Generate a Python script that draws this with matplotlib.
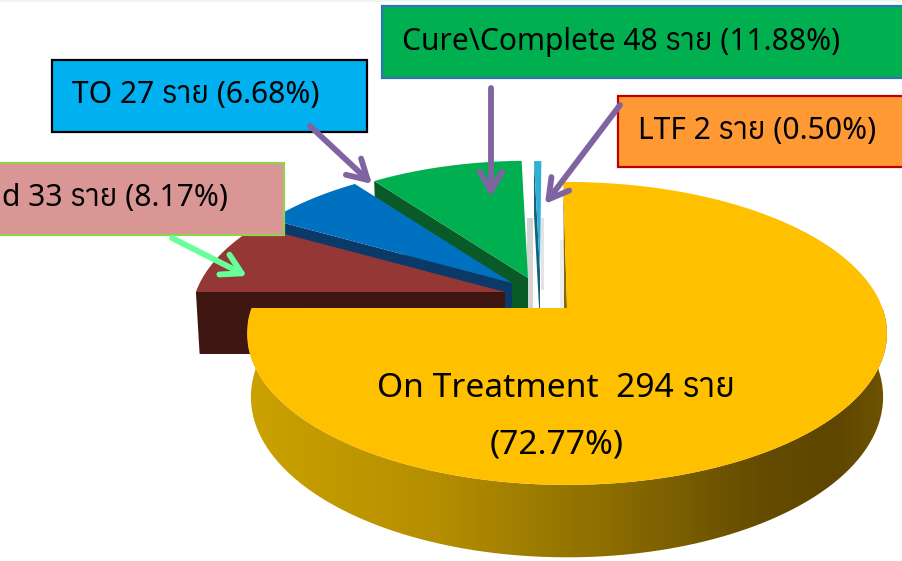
import numpy as np
import matplotlib
matplotlib.use("Agg")
import matplotlib.pyplot as plt
from matplotlib.colors import LinearSegmentedColormap
from matplotlib.patches import Polygon, Rectangle

names = ["On Treatment", "Died", "TO", "Cure", "LTF"]
values = [294, 33, 27, 48, 2]
top_colors = ["#ffc000", "#953735", "#0070c0", "#00b050", "#31b0d5"]
side_colors = ["#8a6a00", "#3f1512", "#0b3a68", "#0a5a28", "#17607a"]

FAMILY = ["Noto Sans", "Anuphan", "DejaVu Sans"]

# per-slice perspective layout
start_angle = 90.8
sweep_factor = [1.0337, 1.0, 1.0, 0.82, 1.0]
apexes = [(567, 308), (505, 292), (512, 283), (528, 278), (540, 272)]
radius_factor = [1.0, 0.98, 0.95, 0.93, 0.88]
R, K, P, D = 315.4, 147.2, 0.168, 62.0


def top(theta, apex, rf):
    t = np.radians(theta)
    w = 1 + P * np.sin(t)
    return apex[0] + rf * R * np.cos(t) / w, apex[1] - rf * K * np.sin(t) / w


def bottom(theta, apex, rf):
    t = np.radians(theta)
    w = 1 + P * np.sin(t)
    return apex[0] + 0.988 * rf * R * np.cos(t) / w, apex[1] - 0.988 * rf * K * np.sin(t) / w + D / w


fig = plt.figure(figsize=(9.03, 5.61), dpi=100)
ax = fig.add_axes([0, 0, 1, 1])
ax.set_xlim(0, 903)
ax.set_ylim(561, 0)
ax.axis("off")
ax.add_patch(Rectangle((0, 0), 903, 2, fc="#eef6f4", ec="none", zorder=0))

total = sum(values)
edges = [start_angle]
for v, f in zip(values, sweep_factor):
    edges.append(edges[-1] - v / total * 360 * f)

# gray shadows in the white gap
ax.add_patch(Polygon([(527, 218), (533, 218), (533, 308), (527, 308)], fc="#d4d4d4", ec="none", zorder=1))
ax.add_patch(Polygon([(541, 218), (544, 218), (544, 290), (541, 290)], fc="#e4e4e4", ec="none", zorder=1))
ax.add_patch(Polygon([(560, 240), (565, 240), (565, 308), (560, 308)], fc="#eeeeee", ec="none", zorder=1))

# draw from back to front: LTF, Cure, TO, Died, then On Treatment
z = 2
for i in [4, 3, 2, 1]:
    a0, a1 = edges[i], edges[i + 1]
    apex, rf = apexes[i], radius_factor[i]
    outer = top(a0, apex, rf)
    low_outer = bottom(a0, apex, rf)
    low_apex = bottom(a0, apex, 0)
    ax.add_patch(Polygon([outer, apex, low_apex, low_outer], fc=side_colors[i], ec="none", zorder=z))
    th = np.linspace(a0, a1, 60)
    pts = [apex] + [top(t, apex, rf) for t in th]
    ax.add_patch(Polygon(pts, fc=top_colors[i], ec="none", zorder=z + 1))
    z += 2

# On Treatment: gradient side wall and top face
a0, a1 = edges[0], edges[1]
apex, rf = apexes[0], radius_factor[0]
th = np.linspace(-180, 0, 120)
wall = [top(t, apex, rf) for t in th] + [bottom(t, apex, rf) for t in th[::-1]]
wall_patch = Polygon(wall, fc="none", ec="none", zorder=z)
ax.add_patch(wall_patch)
cmap = LinearSegmentedColormap.from_list(
    "wall", [(0.0, "#cba200"), (0.3, "#b48e00"), (0.55, "#8e6f00"), (0.8, "#654c00"), (0.92, "#5e4600"), (1.0, "#6e5400")]
)
img = ax.imshow(np.linspace(0, 1, 256)[None, :], extent=(248, 888, 561, 300), cmap=cmap, aspect="auto", zorder=z)
img.set_clip_path(wall_patch)
ax.set_xlim(0, 903)
ax.set_ylim(561, 0)
z += 1
ax.add_patch(Polygon([top(a0, apex, rf), apex, (apex[0], apex[1] + 2), (apex[0] - 3, apex[1] + 2), (apex[0] - 3, apex[1] - 38)],
                     fc=side_colors[0], ec="none", zorder=z))
th = np.linspace(a0, a1, 200)
ax.add_patch(Polygon([apex] + [top(t, apex, rf) for t in th], fc=top_colors[0], ec="none", zorder=z))
z += 1

# label boxes
boxes = [
    ("Cure\\Complete 48 ราย (11.88%)", 382, 6, 530, 72, "#00b050", "#2e75b6", 402, 40),
    ("TO 27 ราย (6.68%)", 52, 60, 315, 72, "#00b0f0", "#000000", 72, 93),
    ("d 33 ราย (8.17%)", -10, 163, 294, 72, "#da9694", "#92d050", 2, 196),
    ("LTF 2 ราย (0.50%)", 618, 96, 300, 71, "#ff9933", "#c00000", 638, 129),
]
for text, x, y, w, h, fc, ec, tx, ty in boxes:
    ax.add_patch(Rectangle((x, y), w, h, fc=fc, ec=ec, lw=1.6, zorder=z))
    ax.text(tx, ty + 2, text, family=FAMILY, fontsize=21.6, fontweight="medium", color="black",
            va="center", ha="left", zorder=z + 1)

ax.text(556, 388, "On Treatment  294 ราย", family=FAMILY, fontsize=24.2, fontweight="medium",
        ha="center", va="center", zorder=z + 1)
ax.text(557, 445, "(72.77%)", family=FAMILY, fontsize=24.2, fontweight="medium",
        ha="center", va="center", zorder=z + 1)

arrows = [
    ((310, 126), (372, 184), "#8064a2"),
    ((491, 88), (491, 197), "#8064a2"),
    ((620, 105), (545, 204), "#8064a2"),
    ((172, 238), (247, 276), "#66ff99"),
]
for s, e, c in arrows:
    ax.annotate("", xy=e, xytext=s, zorder=z + 2,
                arrowprops=dict(arrowstyle="->,head_length=1.4,head_width=0.8", lw=4.2, color=c,
                                shrinkA=0, shrinkB=0))

fig.savefig("out.png", dpi=100)
